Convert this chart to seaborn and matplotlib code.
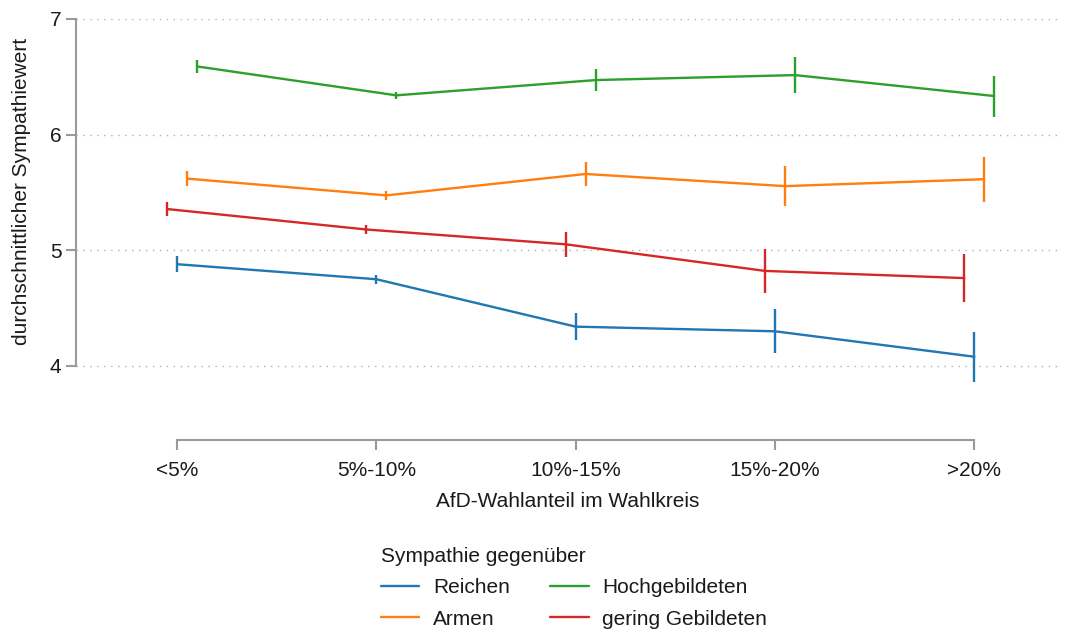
import pandas as pd
import matplotlib
matplotlib.use("Agg")
import matplotlib.pyplot as plt
import seaborn as sns

# --- data ---
kategorien = ["<5%", "5%-10%", "10%-15%", "15%-20%", ">20%"]
gruppen = ["Reichen", "Armen", "Hochgebildeten", "gering Gebildeten"]

reichen = [4.88, 4.75, 4.34, 4.30, 4.08]
reichen_ci = [0.07, 0.037, 0.118, 0.19, 0.216]
armen = [5.62, 5.475, 5.66, 5.555, 5.615]
armen_ci = [0.062, 0.036, 0.105, 0.175, 0.195]
hochgebildete = [6.59, 6.34, 6.472, 6.515, 6.334]
hochgebildete_ci = [0.055, 0.03, 0.095, 0.158, 0.177]
gering_gebildete = [5.357, 5.18, 5.052, 4.822, 4.76]
gering_gebildete_ci = [0.062, 0.036, 0.11, 0.187, 0.21]

# --- styling ---
farben = {"Reichen": "#1f77b4", "Armen": "#ff7f0e",
          "Hochgebildeten": "#2ca02c", "gering Gebildeten": "#d62728"}
versatz = {"Reichen": 0.0, "Armen": 0.05,
           "Hochgebildeten": 0.10, "gering Gebildeten": -0.05}

werte = {"Reichen": (reichen, reichen_ci), "Armen": (armen, armen_ci),
         "Hochgebildeten": (hochgebildete, hochgebildete_ci),
         "gering Gebildeten": (gering_gebildete, gering_gebildete_ci)}

rows = []
for g in gruppen:
    mw, ci = werte[g]
    for i, k in enumerate(kategorien):
        rows.append({"gruppe": g, "kategorie": k, "x": i + versatz[g],
                     "wert": mw[i], "ci": ci[i]})
df = pd.DataFrame(rows)

sns.set_theme(style="white")
plt.rcParams["font.family"] = ["Liberation Sans", "DejaVu Sans"]

fig = plt.figure(figsize=(10.69, 6.32), dpi=100)
ax = fig.add_axes([76 / 1069, 1 - 440 / 632, (1060 - 76) / 1069, (440 - 19) / 632])

sns.lineplot(data=df, x="x", y="wert", hue="gruppe", hue_order=gruppen,
             palette=farben, linewidth=1.7, ax=ax, legend=True, zorder=3)

for g in gruppen:
    d = df[df["gruppe"] == g]
    ax.vlines(d["x"], d["wert"] - d["ci"], d["wert"] + d["ci"],
              color=farben[g], linewidth=1.7, zorder=3)

# grid
for yv in [4, 5, 6, 7]:
    ax.axhline(yv, color="#b0b0b0", linewidth=1.0, linestyle=(0, (1, 4)), zorder=1)

ax.set_xlim(-0.507, 4.43)
ax.set_ylim(3.36, 7.0)
ax.set_xticks(range(len(kategorien)))
ax.set_xticklabels(kategorien)
ax.set_yticks([4, 5, 6, 7])

for s in ["top", "right"]:
    ax.spines[s].set_visible(False)
for s in ["left", "bottom"]:
    ax.spines[s].set_color("#9a9a9a")
    ax.spines[s].set_linewidth(1.5)
ax.spines["left"].set_bounds(4, 7)
ax.spines["bottom"].set_bounds(0, 4)

ax.tick_params(axis="both", which="major", length=7, width=1.5, color="#9a9a9a",
               labelsize=15, labelcolor="#1a1a1a", left=True, bottom=True)
ax.tick_params(axis="x", pad=8)
ax.tick_params(axis="y", pad=3.5)

ax.set_xlabel("AfD-Wahlanteil im Wahlkreis", fontsize=15, color="#1a1a1a", labelpad=9)
ax.set_ylabel("durchschnittlicher Sympathiewert", fontsize=15, color="#1a1a1a")
ax.yaxis.set_label_coords(-0.046, (440 - 191) / 421)

handles, labels = ax.get_legend_handles_labels()
ax.get_legend().remove()
leg = fig.legend(handles, labels, ncol=2, title="Sympathie gegenüber",
                 loc="upper left", bbox_to_anchor=(362 / 1069, 1 - 528 / 632),
                 frameon=False, fontsize=15, title_fontsize=15,
                 alignment="left", handlelength=1.85, handletextpad=0.65,
                 columnspacing=1.95, labelspacing=0.6)
for t in leg.get_texts():
    t.set_color("#1a1a1a")
leg.get_title().set_color("#1a1a1a")

fig.savefig("out.png", dpi=100)
